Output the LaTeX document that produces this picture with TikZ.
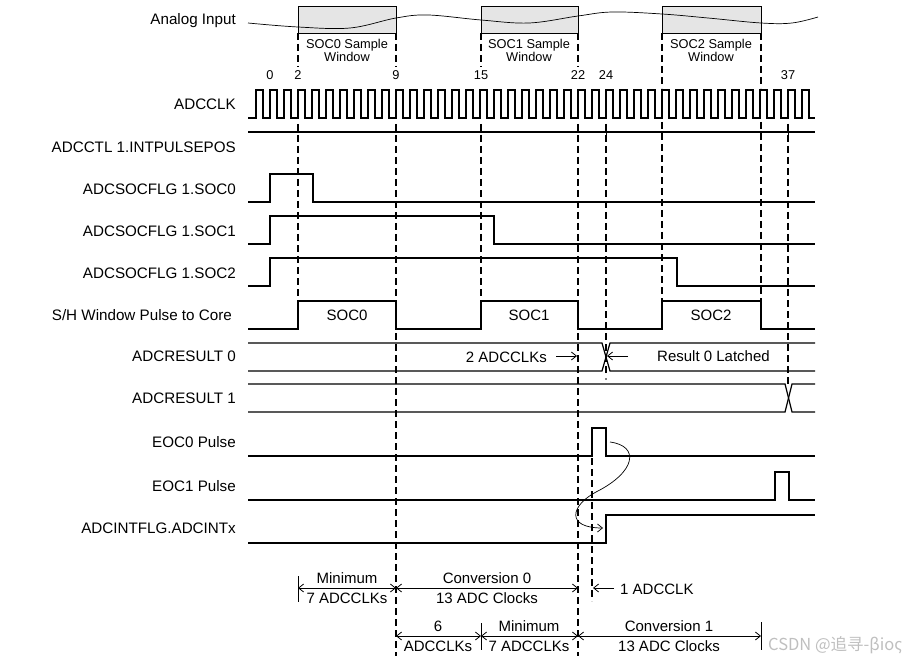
\documentclass[tikz,border=0pt]{standalone}
\usepackage{fontspec}
\setmainfont{Liberation Sans}
\newfontfamily\cjkwm{Noto Sans CJK SC}
\usetikzlibrary{arrows.meta}
\begin{document}
\begin{tikzpicture}[x=1pt,y=-1pt,
  wave/.style={line width=1.2pt, line join=miter},
  guide/.style={line width=1.3pt, dash pattern=on 7pt off 4pt},
  tick/.style={line width=1pt},
  lbl/.style={anchor=east, font=\fontsize{15.2}{17}\selectfont, inner sep=0pt},
  smalltxt/.style={font=\fontsize{12.8}{13.5}\selectfont, inner sep=0pt, align=center},
  note/.style={font=\fontsize{15}{20}\selectfont, inner sep=0pt, align=center},
  arr/.style={line width=0.8pt, -{Straight Barb[length=5pt,width=8pt]}},
  dim/.style={line width=0.8pt, {Straight Barb[length=5pt,width=8pt]}-{Straight Barb[length=5pt,width=8pt]}},
  win/.style={fill=black!10},
]
\useasboundingbox (0,0) rectangle (909,660);

% ---------- signal names ----------
\node[lbl] (nAnalog) at (236,21) {Analog Input};
\node[lbl] (nClk)    at (236,104) {ADCCLK};
\node[lbl] (nCtl)    at (236,147) {ADCCTL 1.INTPULSEPOS};
\node[lbl] (nS0)     at (236,189) {ADCSOCFLG 1.SOC0};
\node[lbl] (nS1)     at (236,231) {ADCSOCFLG 1.SOC1};
\node[lbl] (nS2)     at (236,273) {ADCSOCFLG 1.SOC2};
\node[lbl] (nSH)     at (232,315) {S/H Window Pulse to Core};
\node[lbl] (nR0)     at (236,356) {ADCRESULT 0};
\node[lbl] (nR1)     at (236,398) {ADCRESULT 1};
\node[lbl] (nE0)     at (236,442) {EOC0 Pulse};
\node[lbl] (nE1)     at (236,486) {EOC1 Pulse};
\node[lbl] (nInt)    at (236,528) {ADCINTFLG.ADCINTx};

% ---------- dashed guides ----------
\foreach \x in {298,396,481,578} \draw[guide] (\x,33) -- (\x,67);
\foreach \x in {662,761} \draw[guide] (\x,33) -- (\x,88);
\draw[guide] (298,124) -- (298,330);
\draw[guide] (396,124) -- (396,656);
\draw[guide] (481,124) -- (481,330);
\draw[guide] (578,124) -- (578,656);
\draw[guide] (662,122) -- (662,330);
\draw[guide] (761,122) -- (761,330);
\draw[guide] (606,124) -- (606,376);
\fill (606,379) circle (0.9pt);
\draw[guide] (788,124) -- (788,386);
\draw[guide] (592,458) -- (592,601);

% ---------- analog input ----------
\foreach \a/\b in {298/396,481/578,662/761} \fill[win] (\a,6) rectangle (\b,33);
\draw[line width=0.7pt] plot[smooth, tension=0.6] coordinates {(248,23) (298,27) (350,28) (396,18) (428,15) (481,20) (529,23) (578,16) (612,12) (662,14) (708,18) (761,23) (792,23) (818,17)};
\foreach \a/\b in {298/396,481/578,662/761} \draw[line width=0.8pt] (\a,6) rectangle (\b,33);
\node[smalltxt] (w0) at (347,50.5) {SOC0 Sample\\Window};
\node[smalltxt] (w1) at (529,50.5) {SOC1 Sample\\Window};
\node[smalltxt] (w2) at (711,50.5) {SOC2 Sample\\Window};

% ---------- cycle numbers ----------
\foreach \x/\t in {270/0,298/2,396/9,481/15,578/22,606/24,788/37}
  \node[smalltxt] (c\t) at (\x,75) {\t};

% ---------- ADCCLK ----------
\draw[wave, line width=1.1pt] (248,118)
  \foreach \n in {-1,...,38} { -- ({270+14*\n},118) -- ({270+14*\n},90) -- ({277+14*\n},90) -- ({277+14*\n},118) } -- (815,118);
\draw[wave] (248,132) -- (815,132);
\draw[tick] (606,124) -- (606,136);
\draw[tick] (788,124) -- (788,136);

% ---------- SOC flags ----------
\draw[wave] (248,202) -- (270,202) -- (270,174) -- (313,174) -- (313,202) -- (815,202);
\draw[wave] (248,244) -- (270,244) -- (270,216) -- (494,216) -- (494,244) -- (815,244);
\draw[wave] (248,286) -- (270,286) -- (270,258) -- (677,258) -- (677,286) -- (815,286);

% ---------- S/H window ----------
\draw[wave] (248,329) -- (298,329) -- (298,301) -- (396,301) -- (396,329) -- (481,329) -- (481,301)
  -- (578,301) -- (578,329) -- (662,329) -- (662,301) -- (761,301) -- (761,329) -- (815,329);
\node[note] (p0) at (347,315) {SOC0};
\node[note] (p1) at (529,315) {SOC1};
\node[note] (p2) at (711,315) {SOC2};

% ---------- results ----------
\draw[wave] (248,343) -- (602,343) -- (610,371) -- (815,371);
\draw[wave] (248,371) -- (602,371) -- (610,343) -- (815,343);
\draw[wave] (248,384) -- (785,384) -- (792,412) -- (815,412);
\draw[wave] (248,412) -- (785,412) -- (792,384) -- (815,384);

\node[note, anchor=east] (t2clk) at (547,357) {2 ADCCLKs};
\coordinate (a2s) at (556,356);
\coordinate (a2e) at (577,356);
\draw[arr] (a2s) -- (a2e);
\node[note, anchor=west] (tlat) at (657,356) {Result 0 Latched};
\coordinate (als) at (628,356);
\coordinate (ale) at (607,356);
\draw[arr] (als) -- (ale);

% ---------- EOC & interrupt ----------
\draw[wave] (248,456) -- (592,456) -- (592,428) -- (606,428) -- (606,456) -- (815,456);
\draw[wave] (248,500) -- (775,500) -- (775,472) -- (789,472) -- (789,500) -- (815,500);
\draw[wave] (248,543) -- (606,543) -- (606,515) -- (815,515);
\coordinate (cvs) at (610,442);
\coordinate (cvm) at (596,492);
\coordinate (cve) at (603,528);
\draw[arr, line width=0.7pt] (cvs) .. controls (640,446) and (636,472) .. (cvm)
   .. controls (570,506) and (566,528) .. (cve);

% ---------- bottom dimensions ----------
\draw[tick] (298,576) -- (298,602);
\draw[tick] (481,623) -- (481,650);
\draw[tick] (761,622) -- (761,650);
\coordinate (r1a) at (298,588);
\coordinate (r1b) at (396,588);
\coordinate (r1c) at (578,588);
\coordinate (r1d) at (593,588);
\coordinate (r1e) at (614,588);
\draw[dim] (r1a) -- (r1b);
\draw[dim] (r1b) -- (r1c);
\draw[arr] (r1e) -- (r1d);
\node[note] (m1) at (347,588) {Minimum\\7 ADCCLKs};
\node[note] (cv0) at (487,588) {Conversion 0\\13 ADC Clocks};
\node[note, anchor=west] (one) at (620,589) {1 ADCCLK};

\coordinate (r2a) at (396,636);
\coordinate (r2b) at (481,636);
\coordinate (r2c) at (578,636);
\coordinate (r2d) at (761,636);
\draw[dim] (r2a) -- (r2b);
\draw[dim] (r2b) -- (r2c);
\draw[dim] (r2c) -- (r2d);
\node[note] (six) at (438,636) {6\\ADCCLKs};
\node[note] (m2) at (529,636) {Minimum\\7 ADCCLKs};
\node[note] (cv1) at (669,636) {Conversion 1\\13 ADC Clocks};

% ---------- watermark ----------
\node[anchor=west, inner sep=0pt, text=black!25, font=\cjkwm\fontsize{16.5}{18}\selectfont] (wm) at (768,645) {CSDN @追寻-βioς};
\end{tikzpicture}
\end{document}
